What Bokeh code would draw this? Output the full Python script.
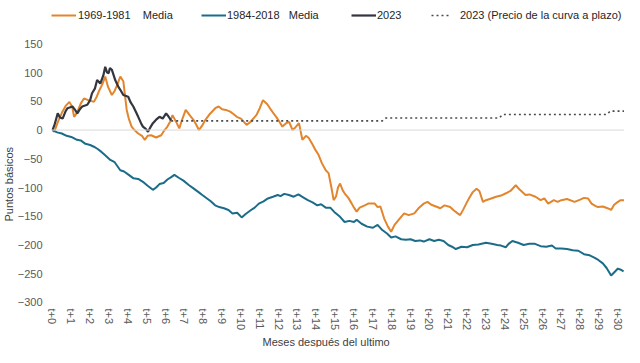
from bokeh.plotting import figure
from bokeh.models import (FixedTicker, Span, Legend, LegendItem, Title, Range1d)
from bokeh.embed import file_html
from bokeh.resources import INLINE

# ---------------- data ----------------
months = list(range(0, 31))
tick_labels = ["t+%d" % m for m in months]

t_1969 = [0, 0.1, 0.3, 0.5, 0.7, 0.9, 1.05, 1.15, 1.3, 1.5, 1.67, 1.9, 2.2, 2.35, 2.46, 2.65, 2.8, 2.95,
          3.15, 3.3, 3.45, 3.6, 3.76, 3.85, 3.94, 4.05, 4.2, 4.35, 4.55, 4.75, 4.9, 5.05, 5.24, 5.5,
          5.77, 5.95, 6.1, 6.25, 6.37, 6.55, 6.73, 6.9, 7.07, 7.3, 7.5, 7.65, 7.77, 7.95, 8.1, 8.35,
          8.64, 8.82, 9.0, 9.2, 9.43, 9.6, 9.78, 10.0, 10.3, 10.5, 10.82, 11.0, 11.17, 11.4, 11.6,
          11.75, 11.87, 12.05, 12.2, 12.4, 12.56, 12.74, 12.9, 13.08, 13.26, 13.45, 13.6, 13.8, 13.96,
          14.1, 14.3, 14.5, 14.65, 14.8, 14.92, 15.05, 15.15, 15.26, 15.4, 15.5, 15.7, 15.88, 16.0,
          16.14, 16.3, 16.57, 16.75, 16.92, 17.1, 17.25, 17.4, 17.6, 17.8, 17.97, 18.15, 18.4, 18.66,
          18.9, 19.2, 19.45, 19.7, 19.9, 20.1, 20.35, 20.58, 20.8, 21.1, 21.3, 21.5, 21.63, 21.8, 22.0,
          22.15, 22.3, 22.5, 22.65, 22.84, 23.0, 23.2, 23.54, 23.8, 24.06, 24.3, 24.58, 24.8, 25.1,
          25.3, 25.63, 25.9, 26.1, 26.3, 26.6, 26.8, 27.0, 27.3, 27.7, 28.0, 28.2, 28.42, 28.6, 28.8,
          28.94, 29.2, 29.45, 29.64, 29.8, 30.0, 30.15, 30.33]
v_1969 = [0, -3, 15, 30, 42, 49, 40, 23, 30, 46, 55, 52, 49, 58, 67, 80, 93, 75,
          61, 68, 80, 93, 85, 60, 35, 20, 6, 0, -6, -10, -17, -10, -9, -13,
          -9, 0, 6, 15, 26, 15, 3, 20, 35, 25, 17, 8, 0, 8, 17, 28,
          38, 41, 36, 35, 32, 28, 23, 20, 9, 14, 26, 38, 52, 45, 35,
          28, 23, 14, 6, 12, 14, 0, 5, 12, -17, -10, -14, -25, -35,
          -42, -58, -70, -75, -100, -122, -115, -100, -93, -105, -110, -118, -128, -135,
          -142, -135, -131, -128, -128, -128, -134, -133, -154, -168, -177, -165, -155, -145,
          -148, -145, -135, -128, -125, -130, -133, -136, -131, -134, -140, -145, -148, -138, -125,
          -116, -108, -102, -106, -125, -122, -120, -116, -114, -110, -106, -96, -104, -113,
          -112, -116, -122, -119, -128, -122, -125, -122, -120, -125, -121, -118, -119, -128, -132,
          -134, -133, -136, -139, -130, -125, -122, -122]

t_1984 = [0, 0.25, 0.5, 0.75, 1.0, 1.3, 1.5, 1.75, 2.0, 2.2, 2.4, 2.6, 2.8, 3.07, 3.3, 3.6, 3.8, 4.05,
          4.3, 4.55, 4.8, 5.05, 5.33, 5.5, 5.68, 5.9, 6.1, 6.3, 6.47, 6.7, 6.95, 7.25, 7.5, 7.75,
          7.95, 8.2, 8.4, 8.63, 8.85, 9.1, 9.34, 9.55, 9.8, 10.04, 10.25, 10.5, 10.73, 10.95, 11.2,
          11.43, 11.7, 11.95, 12.1, 12.3, 12.55, 12.8, 13.05, 13.3, 13.55, 13.8, 14.05, 14.25, 14.5,
          14.74, 15.0, 15.26, 15.5, 15.75, 16.0, 16.14, 16.4, 16.7, 17.0, 17.25, 17.5, 17.75, 17.97,
          18.2, 18.5, 18.75, 19.0, 19.25, 19.5, 19.7, 20.0, 20.25, 20.5, 20.75, 21.0, 21.2, 21.4,
          21.7, 22.0, 22.3, 22.6, 23.0, 23.3, 23.6, 23.8, 24.05, 24.2, 24.4, 24.7, 25.0, 25.3, 25.6,
          25.9, 26.2, 26.5, 26.7, 27.0, 27.3, 27.6, 27.9, 28.2, 28.5, 28.75, 28.96, 29.2, 29.4,
          29.64, 29.85, 30.0, 30.15, 30.3]
v_1984 = [0, -4, -6, -10, -12, -17, -18, -24, -26, -29, -33, -38, -44, -52, -56, -70, -72, -78,
          -84, -85, -90, -97, -104, -100, -94, -92, -86, -82, -78, -83, -88, -96, -102, -108,
          -113, -119, -124, -131, -134, -136, -139, -145, -144, -152, -146, -140, -135, -128, -124,
          -119, -116, -113, -115, -111, -113, -116, -112, -117, -122, -126, -131, -129, -135,
          -135, -144, -151, -160, -158, -160, -156, -163, -168, -170, -165, -174, -180, -187,
          -185, -190, -191, -190, -193, -192, -194, -190, -193, -191, -193, -200, -203, -207,
          -203, -204, -200, -199, -196, -198, -200, -201, -204, -198, -193, -196, -200, -198, -198,
          -202, -203, -201, -206, -206, -207, -209, -210, -216, -218, -222, -226, -232, -240,
          -253, -246, -241, -243, -246]

t_2023 = [0, 0.1, 0.28, 0.4, 0.54, 0.7, 0.8, 1.06, 1.2, 1.32, 1.45, 1.58, 1.85, 2.0, 2.1, 2.25, 2.37,
          2.54, 2.7, 2.8, 2.9, 2.98, 3.05, 3.15, 3.25, 3.33, 3.5, 3.6, 3.76, 4.02, 4.15, 4.29, 4.45,
          4.55, 4.7, 4.8, 4.95, 5.07, 5.2, 5.33, 5.5, 5.68, 5.85, 6.03, 6.15, 6.29]
v_2023 = [0, 8, 29, 22, 20, 33, 38, 41, 35, 29, 36, 41, 44, 52, 64, 72, 87,
          81, 95, 110, 100, 99, 108, 105, 95, 87, 75, 70, 61, 58, 48, 41, 30,
          23, 12, 6, 2, -3, 5, 12, 18, 23, 20, 29, 24, 17]

t_fwd = [6.3, 17.5, 17.7, 23.7, 23.9, 29.4, 29.6, 30.4]
v_fwd = [16, 16, 21, 21, 27, 27, 33, 33]

y_ticks = [-300, -250, -200, -150, -100, -50, 0, 50, 100, 150]

# ---------------- style ----------------
C_ORANGE = "#E2852C"
C_BLUE = "#1B6C88"
C_DARK = "#33363F"
C_DOT = "#4A4A4A"
FONT = "Liberation Sans"

p = figure(width=624, height=347, output_backend="svg", toolbar_location=None,
           x_range=Range1d(-0.05, 30.35), y_range=Range1d(-307, 225.4),
           min_border_left=44, min_border_right=0, min_border_top=0, min_border_bottom=0)
p.title.visible = False

p.xgrid.visible = False
p.ygrid.visible = False
p.outline_line_color = None
p.background_fill_color = "white"
p.border_fill_color = "white"

p.add_layout(Span(location=0, dimension="width", line_color="#D9D9D9", line_width=1))

r_or = p.line(t_1969, v_1969, line_color=C_ORANGE, line_width=2)
r_bl = p.line(t_1984, v_1984, line_color=C_BLUE, line_width=2)
r_fw = p.line(t_fwd, v_fwd, line_color=C_DOT, line_width=1.6, line_dash="2 3")
r_dk = p.line(t_2023, v_2023, line_color=C_DARK, line_width=2.2)

# axes
xa = p.xaxis[0]
xa.ticker = FixedTicker(ticks=months)
xa.major_label_overrides = {m: lab for m, lab in zip(months, tick_labels)}
xa.major_label_orientation = "vertical"
xa.axis_line_color = None
xa.major_tick_line_color = None
xa.minor_tick_line_color = None
xa.major_tick_out = 0
xa.minor_tick_out = 0
xa.major_label_text_font = FONT
xa.major_label_text_font_size = "11px"
xa.major_label_text_color = "#595959"
xa.major_label_standoff = 2

ya = p.yaxis[0]
ya.ticker = FixedTicker(ticks=y_ticks)
ya.axis_line_color = None
ya.major_tick_line_color = None
ya.minor_tick_line_color = None
ya.major_tick_out = 0
ya.minor_tick_out = 0
ya.major_label_text_font = FONT
ya.major_label_text_font_size = "11px"
ya.major_label_text_color = "#595959"
ya.major_label_standoff = 9

p.add_layout(Title(text="Puntos básicos", align="left", offset=85,
                   text_font=FONT, text_font_size="11px", text_font_style="normal",
                   text_color="#404040", standoff=0), "left")

p.add_layout(Title(text="Meses después del ultimo", align="left", offset=211,
                   text_font=FONT, text_font_size="11px", text_font_style="normal",
                   text_color="#404040", standoff=0), "below")

# legends (one per item, placed in the frame's empty top band)
LEG_Y = 285
def add_legend(label, renderer, x, gw, standoff):
    lg = Legend(items=[LegendItem(label=label, renderers=[renderer])],
                location=(x, LEG_Y), orientation="horizontal",
                padding=0, margin=0, spacing=0, border_line_color=None,
                background_fill_alpha=0, glyph_width=gw, glyph_height=12,
                label_height=12, label_standoff=standoff,
                label_text_font=FONT, label_text_font_size="11px",
                label_text_color="#262626")
    p.add_layout(lg, "center")

add_legend("1969-1981\u00a0\u00a0\u00a0\u00a0Media", r_or, 0, 25, 2)
add_legend("1984-2018\u00a0\u00a0\u00a0Media", r_bl, 150, 25, 1)
add_legend("2023", r_dk, 300, 25, 1)
add_legend("2023 (Precio de la curva a plazo)", r_fw, 380, 20, 9)

open("out.html", "w").write(file_html(p, INLINE))
